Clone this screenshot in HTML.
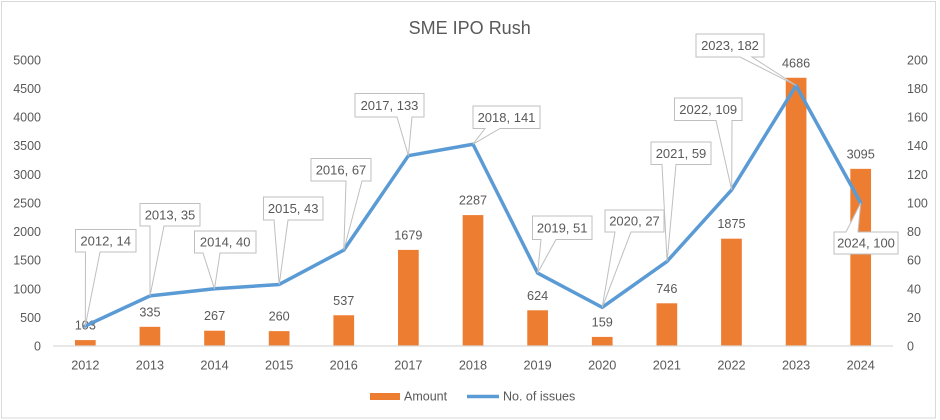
<!DOCTYPE html>
<html>
<head>
<meta charset="utf-8">
<style>
html,body{margin:0;padding:0;background:#fff;}
svg{display:block;}
text{font-family:"Liberation Sans",Arial,sans-serif;fill:#595959;}
</style>
</head>
<body>
<svg width="940" height="420" viewBox="0 0 940 420" xmlns="http://www.w3.org/2000/svg">
<rect x="0" y="0" width="940" height="420" fill="#fff"/>
<rect x="1.5" y="1.5" width="934" height="416.5" fill="#fff" stroke="#d9d9d9" stroke-width="1"/>

<!-- Title -->
<text x="469.7" y="34" font-size="18" text-anchor="middle">SME IPO Rush</text>

<!-- Left axis labels -->
<g font-size="12.5" text-anchor="end">
<text x="41" y="350.5">0</text>
<text x="41" y="321.9">500</text>
<text x="41" y="293.3">1000</text>
<text x="41" y="264.6">1500</text>
<text x="41" y="236.0">2000</text>
<text x="41" y="207.4">2500</text>
<text x="41" y="178.8">3000</text>
<text x="41" y="150.2">3500</text>
<text x="41" y="121.5">4000</text>
<text x="41" y="92.9">4500</text>
<text x="41" y="64.3">5000</text>
</g>

<!-- Right axis labels -->
<g font-size="12.5" text-anchor="start">
<text x="907" y="350.5">0</text>
<text x="907" y="321.9">20</text>
<text x="907" y="293.3">40</text>
<text x="907" y="264.6">60</text>
<text x="907" y="236.0">80</text>
<text x="907" y="207.4">100</text>
<text x="907" y="178.8">120</text>
<text x="907" y="150.2">140</text>
<text x="907" y="121.5">160</text>
<text x="907" y="92.9">180</text>
<text x="907" y="64.3">200</text>
</g>

<!-- Bars -->
<g fill="#ED7D31">
<rect x="74.96" y="340.10" width="20.7" height="5.90"/>
<rect x="139.57" y="326.82" width="20.7" height="19.18"/>
<rect x="204.19" y="330.72" width="20.7" height="15.28"/>
<rect x="268.80" y="331.12" width="20.7" height="14.88"/>
<rect x="333.42" y="315.26" width="20.7" height="30.74"/>
<rect x="398.03" y="249.89" width="20.7" height="96.11"/>
<rect x="462.65" y="215.09" width="20.7" height="130.91"/>
<rect x="527.27" y="310.28" width="20.7" height="35.72"/>
<rect x="591.88" y="336.90" width="20.7" height="9.10"/>
<rect x="656.50" y="303.30" width="20.7" height="42.70"/>
<rect x="721.11" y="238.67" width="20.7" height="107.33"/>
<rect x="785.73" y="77.77" width="20.7" height="268.23"/>
<rect x="850.34" y="168.84" width="20.7" height="177.16"/>
</g>

<!-- Axis line -->
<line x1="53" y1="346" x2="893" y2="346" stroke="#d9d9d9" stroke-width="1.2"/>

<!-- X labels -->
<g font-size="12.7" text-anchor="middle">
<text x="85.31" y="369.5">2012</text>
<text x="149.92" y="369.5">2013</text>
<text x="214.54" y="369.5">2014</text>
<text x="279.15" y="369.5">2015</text>
<text x="343.77" y="369.5">2016</text>
<text x="408.38" y="369.5">2017</text>
<text x="473.00" y="369.5">2018</text>
<text x="537.62" y="369.5">2019</text>
<text x="602.23" y="369.5">2020</text>
<text x="666.85" y="369.5">2021</text>
<text x="731.46" y="369.5">2022</text>
<text x="796.08" y="369.5">2023</text>
<text x="860.69" y="369.5">2024</text>
</g>

<!-- Bar labels -->
<g font-size="12.7" text-anchor="middle">
<text x="85.31" y="329.6">103</text>
<text x="149.92" y="316.3">335</text>
<text x="214.54" y="320.2">267</text>
<text x="279.15" y="320.6">260</text>
<text x="343.77" y="304.8">537</text>
<text x="408.38" y="239.4">1679</text>
<text x="473.00" y="204.6">2287</text>
<text x="537.62" y="299.8">624</text>
<text x="602.23" y="326.4">159</text>
<text x="666.85" y="292.8">746</text>
<text x="731.46" y="228.2">1875</text>
<text x="796.08" y="67.3">4686</text>
<text x="860.69" y="158.3">3095</text>
</g>

<!-- Line -->
<polyline fill="none" stroke="#5B9BD5" stroke-width="3.5" stroke-linejoin="round" stroke-linecap="round"
points="85.31,325.97 149.92,295.92 214.54,288.76 279.15,284.47 343.77,250.12 408.38,155.68 473.00,144.23 537.62,273.02 602.23,307.36 666.85,261.57 731.46,190.02 796.08,85.56 860.69,202.9"/>

<!-- Callouts -->
<g fill="#fff" stroke="#bfbfbf" stroke-width="1" stroke-linejoin="miter">
<path d="M75.5,229.5 H136 V252 H100 L85.3,326 L85.5,252 H75.5 Z"/>
<path d="M140,203.5 H200 V226 H164 L150,296 L150,226 H140 Z"/>
<path d="M194.5,231 H256 V253 H220 L214.5,288.8 L203,253 H194.5 Z"/>
<path d="M263.5,197 H323 V220 H288 L279.2,284.5 L274,220 H263.5 Z"/>
<path d="M311,158.5 H371 V181 H362 L343.8,250.1 L346,181 H311 Z"/>
<path d="M355,93.5 H424 V117 H412 L408.4,155.7 L397,117 H355 Z"/>
<path d="M473,106 H540 V128.5 H500 L473,144.2 L485,128.5 H473 Z"/>
<path d="M532.5,216 H592 V239.5 H556 L537.6,273 L541,239.5 H532.5 Z"/>
<path d="M605,210 H664 V232 H631 L602.2,307.4 L615,232 H605 Z"/>
<path d="M651,142 H711 V164.5 H676 L667.1,261.6 L662,164.5 H651 Z"/>
<path d="M674.5,98 H742 V120.5 H732 L731.7,190 L716,120.5 H674.5 Z"/>
<path d="M696,34 H764 V57 H752 L796.3,85.6 L740,57 H696 Z"/>
<path d="M834,232 H846 L860.7,202.9 L858,232 H898 V254 H834 Z"/>
</g>
<g font-size="13" text-anchor="middle">
<text x="105.7" y="245.3">2012, 14</text>
<text x="170" y="219.3">2013, 35</text>
<text x="225.2" y="246.6">2014, 40</text>
<text x="293.2" y="213.1">2015, 43</text>
<text x="341" y="174.3">2016, 67</text>
<text x="389.5" y="109.8">2017, 133</text>
<text x="506.5" y="121.8">2018, 141</text>
<text x="562.2" y="232.3">2019, 51</text>
<text x="634.5" y="225.6">2020, 27</text>
<text x="681" y="157.8">2021, 59</text>
<text x="708.2" y="113.8">2022, 109</text>
<text x="730" y="50.1">2023, 182</text>
<text x="866" y="247.6">2024, 100</text>
</g>

<!-- Legend -->
<rect x="370" y="393" width="30" height="7" fill="#ED7D31"/>
<text x="404" y="400.5" font-size="12.5">Amount</text>
<line x1="467" y1="396.5" x2="499" y2="396.5" stroke="#5B9BD5" stroke-width="3.5"/>
<text x="503" y="400.5" font-size="12.5">No. of issues</text>
</svg>
</body>
</html>
